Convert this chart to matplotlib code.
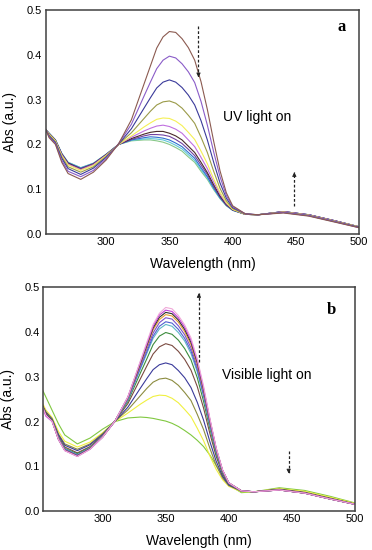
import matplotlib
matplotlib.use("Agg")
import matplotlib.pyplot as plt

plt.rcParams['font.family'] = ['Liberation Sans', 'DejaVu Sans']

# ---------------- data ----------------
wavelength = [250, 255, 260, 265, 270, 280, 290, 300, 310, 320, 330, 335, 340, 345, 350,
              355, 360, 365, 370, 375, 380, 385, 390, 395, 400, 410, 420, 440, 460, 480, 500]

# Panel a (UV light on): spectra from start (highest peak) to end
a_brown = [0.250, 0.215, 0.200, 0.160, 0.135, 0.122, 0.138, 0.165, 0.202, 0.255, 0.335, 0.375, 0.415, 0.440, 0.452,
           0.450, 0.436, 0.416, 0.388, 0.340, 0.278, 0.207, 0.141, 0.092, 0.063, 0.045, 0.043, 0.047, 0.040, 0.027, 0.014]
a_purple = [0.248, 0.217, 0.202, 0.164, 0.140, 0.128, 0.142, 0.168, 0.202, 0.245, 0.308, 0.339, 0.369, 0.388, 0.397,
            0.393, 0.380, 0.362, 0.338, 0.296, 0.243, 0.183, 0.128, 0.086, 0.061, 0.045, 0.043, 0.048, 0.041, 0.028, 0.014]
a_navy = [0.246, 0.219, 0.204, 0.169, 0.146, 0.133, 0.147, 0.171, 0.201, 0.235, 0.281, 0.304, 0.326, 0.339, 0.344,
          0.339, 0.327, 0.310, 0.288, 0.253, 0.210, 0.160, 0.114, 0.080, 0.059, 0.045, 0.043, 0.048, 0.041, 0.028, 0.015]
a_olive = [0.244, 0.221, 0.206, 0.172, 0.150, 0.138, 0.150, 0.173, 0.201, 0.226, 0.258, 0.274, 0.288, 0.295, 0.297,
           0.292, 0.281, 0.265, 0.247, 0.216, 0.182, 0.140, 0.102, 0.074, 0.057, 0.044, 0.043, 0.049, 0.042, 0.029, 0.015]
a_yellow = [0.242, 0.223, 0.208, 0.175, 0.154, 0.142, 0.153, 0.175, 0.200, 0.219, 0.239, 0.248, 0.256, 0.259, 0.258,
            0.252, 0.242, 0.227, 0.211, 0.185, 0.157, 0.123, 0.093, 0.070, 0.055, 0.044, 0.043, 0.049, 0.042, 0.029, 0.016]
a_violet = [0.242, 0.223, 0.208, 0.177, 0.156, 0.144, 0.155, 0.176, 0.200, 0.216, 0.230, 0.236, 0.241, 0.243, 0.240,
            0.234, 0.225, 0.210, 0.195, 0.171, 0.146, 0.116, 0.089, 0.068, 0.055, 0.044, 0.043, 0.050, 0.043, 0.030, 0.016]
a_dark = [0.241, 0.224, 0.209, 0.178, 0.158, 0.145, 0.156, 0.177, 0.200, 0.213, 0.223, 0.227, 0.229, 0.229, 0.225,
          0.219, 0.210, 0.196, 0.182, 0.160, 0.137, 0.110, 0.085, 0.066, 0.054, 0.044, 0.043, 0.050, 0.043, 0.030, 0.016]
a_plum = [0.241, 0.224, 0.209, 0.179, 0.158, 0.146, 0.157, 0.177, 0.200, 0.211, 0.219, 0.222, 0.222, 0.221, 0.218,
          0.211, 0.202, 0.189, 0.175, 0.154, 0.133, 0.106, 0.083, 0.065, 0.054, 0.044, 0.043, 0.050, 0.043, 0.030, 0.016]
a_blue = [0.240, 0.225, 0.210, 0.179, 0.159, 0.147, 0.157, 0.177, 0.200, 0.210, 0.215, 0.217, 0.216, 0.214, 0.210,
          0.203, 0.195, 0.182, 0.169, 0.148, 0.128, 0.103, 0.081, 0.064, 0.053, 0.044, 0.043, 0.050, 0.043, 0.030, 0.016]
a_cyan = [0.240, 0.225, 0.210, 0.180, 0.160, 0.148, 0.158, 0.178, 0.200, 0.209, 0.212, 0.213, 0.212, 0.210, 0.205,
          0.198, 0.190, 0.177, 0.164, 0.144, 0.125, 0.101, 0.080, 0.064, 0.053, 0.044, 0.043, 0.050, 0.043, 0.030, 0.016]
a_green = [0.240, 0.225, 0.210, 0.180, 0.160, 0.148, 0.158, 0.178, 0.200, 0.208, 0.210, 0.210, 0.208, 0.205, 0.200,
           0.193, 0.185, 0.172, 0.160, 0.140, 0.122, 0.099, 0.079, 0.063, 0.053, 0.044, 0.043, 0.050, 0.043, 0.030, 0.016]

# Panel b (Visible light on)
b_pink = [0.251, 0.215, 0.200, 0.160, 0.135, 0.122, 0.138, 0.165, 0.202, 0.255, 0.336, 0.377, 0.417, 0.442, 0.455,
          0.452, 0.437, 0.416, 0.387, 0.340, 0.279, 0.207, 0.141, 0.092, 0.063, 0.045, 0.043, 0.047, 0.040, 0.027, 0.015]
b_magenta = [0.250, 0.212, 0.200, 0.160, 0.135, 0.122, 0.138, 0.165, 0.202, 0.255, 0.334, 0.373, 0.413, 0.438, 0.449,
             0.446, 0.432, 0.411, 0.382, 0.336, 0.275, 0.205, 0.140, 0.092, 0.063, 0.045, 0.043, 0.047, 0.040, 0.027, 0.015]
b_black = [0.250, 0.218, 0.201, 0.160, 0.136, 0.123, 0.139, 0.165, 0.202, 0.254, 0.331, 0.370, 0.409, 0.433, 0.444,
           0.441, 0.427, 0.406, 0.377, 0.332, 0.272, 0.203, 0.139, 0.091, 0.063, 0.045, 0.043, 0.047, 0.040, 0.027, 0.015]
b_gold = [0.249, 0.218, 0.201, 0.161, 0.136, 0.123, 0.139, 0.166, 0.202, 0.253, 0.329, 0.367, 0.405, 0.428, 0.439,
          0.436, 0.422, 0.401, 0.372, 0.328, 0.269, 0.201, 0.138, 0.091, 0.063, 0.045, 0.043, 0.047, 0.040, 0.027, 0.015]
b_purple = [0.249, 0.216, 0.201, 0.162, 0.137, 0.124, 0.140, 0.166, 0.202, 0.251, 0.325, 0.362, 0.398, 0.421, 0.432,
            0.429, 0.414, 0.394, 0.365, 0.322, 0.265, 0.198, 0.136, 0.090, 0.062, 0.045, 0.043, 0.047, 0.040, 0.027, 0.015]
b_blue = [0.249, 0.218, 0.202, 0.162, 0.138, 0.125, 0.140, 0.167, 0.202, 0.250, 0.321, 0.356, 0.391, 0.413, 0.423,
          0.420, 0.406, 0.386, 0.358, 0.316, 0.259, 0.194, 0.134, 0.089, 0.062, 0.045, 0.043, 0.047, 0.040, 0.027, 0.015]
b_teal = [0.248, 0.218, 0.202, 0.163, 0.139, 0.126, 0.141, 0.167, 0.202, 0.248, 0.318, 0.352, 0.386, 0.407, 0.417,
          0.413, 0.399, 0.380, 0.352, 0.311, 0.256, 0.191, 0.132, 0.088, 0.062, 0.045, 0.043, 0.047, 0.040, 0.027, 0.015]
b_green = [0.248, 0.219, 0.202, 0.164, 0.140, 0.128, 0.142, 0.168, 0.202, 0.245, 0.309, 0.340, 0.372, 0.391, 0.399,
           0.395, 0.382, 0.363, 0.338, 0.298, 0.245, 0.184, 0.128, 0.086, 0.061, 0.045, 0.043, 0.047, 0.040, 0.027, 0.015]
b_brown = [0.247, 0.220, 0.203, 0.166, 0.143, 0.130, 0.144, 0.169, 0.202, 0.240, 0.296, 0.324, 0.351, 0.367, 0.374,
           0.370, 0.357, 0.339, 0.315, 0.278, 0.230, 0.173, 0.122, 0.083, 0.060, 0.045, 0.043, 0.048, 0.041, 0.028, 0.015]
b_navy = [0.246, 0.221, 0.205, 0.170, 0.147, 0.135, 0.148, 0.171, 0.201, 0.232, 0.275, 0.296, 0.316, 0.327, 0.331,
          0.327, 0.314, 0.298, 0.276, 0.243, 0.203, 0.155, 0.111, 0.078, 0.058, 0.045, 0.043, 0.048, 0.041, 0.028, 0.015]
b_olive = [0.250, 0.222, 0.206, 0.172, 0.150, 0.138, 0.150, 0.173, 0.201, 0.226, 0.258, 0.274, 0.288, 0.295, 0.297,
           0.292, 0.281, 0.265, 0.247, 0.216, 0.182, 0.140, 0.102, 0.074, 0.057, 0.044, 0.043, 0.049, 0.042, 0.029, 0.016]
b_yellow = [0.255, 0.226, 0.209, 0.178, 0.156, 0.143, 0.154, 0.175, 0.200, 0.219, 0.239, 0.248, 0.256, 0.259, 0.258,
            0.252, 0.242, 0.227, 0.211, 0.185, 0.157, 0.123, 0.093, 0.070, 0.055, 0.043, 0.043, 0.050, 0.044, 0.031, 0.017]
b_lime = [0.285, 0.255, 0.225, 0.195, 0.170, 0.150, 0.163, 0.183, 0.200, 0.208, 0.210, 0.209, 0.207, 0.204, 0.201,
          0.196, 0.189, 0.180, 0.170, 0.158, 0.144, 0.125, 0.102, 0.078, 0.058, 0.041, 0.043, 0.052, 0.046, 0.033, 0.018]

a_series = [a_green, a_cyan, a_blue, a_plum, a_dark, a_violet, a_yellow, a_olive, a_navy, a_purple, a_brown]
a_colors = ['#88C888', '#60C8D8', '#2F6FD0', '#7040A0', '#4A2A2A', '#C070E0', '#F5F055', '#9A9A48',
            '#3A3A9A', '#8A5CC8', '#8B5A50']
b_series = [b_lime, b_yellow, b_olive, b_navy, b_brown, b_green, b_teal, b_blue, b_purple, b_gold, b_black,
            b_magenta, b_pink]
b_colors = ['#80C840', '#F0F040', '#8C8C40', '#3A3A9A', '#7A4A40', '#3C8C3C', '#60B8C8', '#5060D0',
            '#8050C8', '#E8A030', '#303030', '#C040D8', '#F0A8D8']

x_ticks = [300, 350, 400, 450, 500]
y_ticks = [0.0, 0.1, 0.2, 0.3, 0.4, 0.5]

# ---------------- figure ----------------
fig = plt.figure(figsize=(3.72, 5.5), dpi=100)
ax_a = fig.add_axes([0.1228, 0.5745, 0.843, 0.4073])
ax_b = fig.add_axes([0.1164, 0.0709, 0.838, 0.4067])


def style(ax, xmin):
    ax.set_xlim(xmin, 500)
    ax.set_ylim(0, 0.5)
    ax.set_xticks(x_ticks)
    ax.set_yticks(y_ticks)
    ax.set_yticklabels([f"{v:.1f}" for v in y_ticks])
    ax.tick_params(length=0, labelsize=8, pad=2.5)
    for s in ax.spines.values():
        s.set_color('#404040')
        s.set_linewidth(1.1)
    ax.set_xlabel('Wavelength (nm)', fontsize=10, labelpad=7)
    ax.set_ylabel('Abs (a.u.)', fontsize=10, labelpad=7)


def arrow(ax, x, y0, y1):
    ax.plot([x, x], [y0, y1], color='#222222', lw=0.9, ls=(0, (2.2, 1.6)))
    d = 0.012 if y1 > y0 else -0.012
    ax.annotate('', xy=(x, y1), xytext=(x, y1 - d),
                arrowprops=dict(arrowstyle='-|>', color='#222222', lw=0.6, mutation_scale=6))


for ys, c in zip(a_series, a_colors):
    ax_a.plot(wavelength, ys, color=c, lw=0.8)
style(ax_a, 252.3)
ax_a.text(486.4, 0.463, 'a', fontsize=12, fontweight='bold', family='Liberation Serif',
          ha='center', va='center')
ax_a.text(392.5, 0.262, 'UV light on', fontsize=10, ha='left', va='center')
arrow(ax_a, 373, 0.465, 0.35)
arrow(ax_a, 448.7, 0.063, 0.138)

for ys, c in zip(b_series, b_colors):
    ax_b.plot(wavelength, ys, color=c, lw=0.8)
style(ax_b, 253)
ax_b.text(481.5, 0.449, 'b', fontsize=12, fontweight='bold', family='Liberation Serif',
          ha='center', va='center')
ax_b.text(394.3, 0.304, 'Visible light on', fontsize=10, ha='left', va='center')
arrow(ax_b, 376.3, 0.332, 0.487)
arrow(ax_b, 447.4, 0.134, 0.084)

fig.savefig('out.png', dpi=100)
